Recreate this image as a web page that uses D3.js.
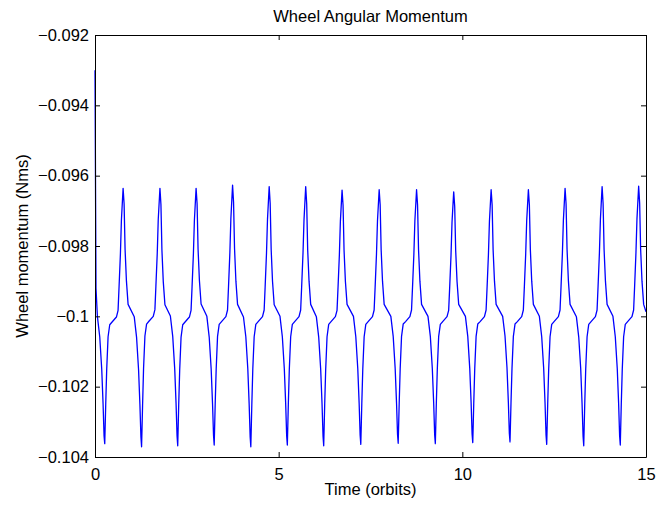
<!DOCTYPE html>
<html>
<head>
<meta charset="utf-8">
<script src="https://cdn.jsdelivr.net/npm/d3@7"></script>
<style>
  body { margin: 0; background: #fff; }
  text { font-family: "Liberation Sans", Arial, sans-serif; }
</style>
</head>
<body>
<div id="chart-area"></div>
<script>
// time samples (orbits), one row per orbit
const timeOrbits = [
  0, 0.027, 0.065, 0.129, 0.183, 0.22, 0.247, 0.265, 0.292, 0.319, 0.356, 0.401, 0.465, 0.583, 0.628, 0.655, 0.692, 0.719, 0.765, 0.792, 0.819, 0.856, 0.901,
  1.068, 1.132, 1.186, 1.223, 1.25, 1.268, 1.295, 1.322, 1.359, 1.404, 1.468, 1.586, 1.631, 1.658, 1.695, 1.722, 1.768, 1.795, 1.822, 1.859, 1.904,
  2.052, 2.116, 2.17, 2.207, 2.234, 2.252, 2.279, 2.306, 2.343, 2.388, 2.452, 2.57, 2.615, 2.642, 2.679, 2.706, 2.752, 2.779, 2.806, 2.843, 2.888,
  3.045, 3.109, 3.163, 3.2, 3.227, 3.245, 3.272, 3.299, 3.336, 3.381, 3.445, 3.563, 3.608, 3.635, 3.672, 3.699, 3.745, 3.772, 3.799, 3.836, 3.881,
  4.042, 4.106, 4.16, 4.197, 4.224, 4.242, 4.269, 4.296, 4.333, 4.378, 4.442, 4.56, 4.605, 4.632, 4.669, 4.696, 4.742, 4.769, 4.796, 4.833, 4.878,
  5.036, 5.1, 5.154, 5.191, 5.218, 5.236, 5.263, 5.29, 5.327, 5.372, 5.436, 5.554, 5.599, 5.626, 5.663, 5.69, 5.736, 5.763, 5.79, 5.827, 5.872,
  6.026, 6.09, 6.144, 6.181, 6.208, 6.226, 6.253, 6.28, 6.317, 6.362, 6.426, 6.544, 6.589, 6.616, 6.653, 6.68, 6.726, 6.753, 6.78, 6.817, 6.862,
  7.036, 7.1, 7.154, 7.191, 7.218, 7.236, 7.263, 7.29, 7.327, 7.372, 7.436, 7.554, 7.599, 7.626, 7.663, 7.69, 7.736, 7.763, 7.79, 7.827, 7.872,
  8.054, 8.118, 8.172, 8.209, 8.236, 8.254, 8.281, 8.308, 8.345, 8.39, 8.454, 8.572, 8.617, 8.644, 8.681, 8.708, 8.754, 8.781, 8.808, 8.845, 8.89,
  9.065, 9.129, 9.183, 9.22, 9.247, 9.265, 9.292, 9.319, 9.356, 9.401, 9.465, 9.583, 9.628, 9.655, 9.692, 9.719, 9.765, 9.792, 9.819, 9.856, 9.901,
  10.084, 10.148, 10.202, 10.239, 10.266, 10.284, 10.311, 10.338, 10.375, 10.42, 10.484, 10.602, 10.647, 10.674, 10.711, 10.738, 10.784, 10.811, 10.838, 10.875, 10.92,
  11.098, 11.162, 11.216, 11.253, 11.28, 11.298, 11.325, 11.352, 11.389, 11.434, 11.498, 11.616, 11.661, 11.688, 11.725, 11.752, 11.798, 11.825, 11.852, 11.889, 11.934,
  12.097, 12.161, 12.215, 12.252, 12.279, 12.297, 12.324, 12.351, 12.388, 12.433, 12.497, 12.615, 12.66, 12.687, 12.724, 12.751, 12.797, 12.824, 12.851, 12.888, 12.933,
  13.105, 13.169, 13.223, 13.26, 13.287, 13.305, 13.332, 13.359, 13.396, 13.441, 13.505, 13.623, 13.668, 13.695, 13.732, 13.759, 13.805, 13.832, 13.859, 13.896, 13.941,
  14.1, 14.164, 14.218, 14.255, 14.282, 14.3, 14.327, 14.354, 14.391, 14.436, 14.5, 14.618, 14.663, 14.69, 14.727, 14.754, 14.8, 14.827, 14.854, 14.891, 14.936, 15
];

// wheel momentum (Nms), same rows as timeOrbits
const wheelMomentum = [
  -0.0930, -0.0992, -0.1000, -0.10058, -0.1015, -0.1025, -0.1034, -0.10362, -0.1025, -0.1015, -0.10058, -0.10024, -0.10016, -0.10002, -0.09983, -0.09916, -0.09822, -0.09726, -0.09636, -0.0968, -0.0981, -0.0990, -0.09966,
  -0.10001, -0.1006, -0.10152, -0.10252, -0.10342, -0.10371, -0.10254, -0.10148, -0.10056, -0.10022, -0.10014, -0.1, -0.09981, -0.09914, -0.0982, -0.09724, -0.09636, -0.09682, -0.09812, -0.09902, -0.09967,
  -0.09999, -0.10057, -0.10149, -0.10249, -0.1034, -0.10368, -0.10251, -0.10151, -0.10059, -0.10024, -0.10016, -0.10002, -0.09983, -0.09917, -0.09822, -0.09727, -0.09636, -0.09679, -0.09809, -0.09899, -0.09965,
  -0.1, -0.10059, -0.10151, -0.1025, -0.10339, -0.10366, -0.10249, -0.1015, -0.10057, -0.10023, -0.10015, -0.10001, -0.09982, -0.09915, -0.09818, -0.09722, -0.09627, -0.09676, -0.09808, -0.099, -0.09966,
  -0.10002, -0.10058, -0.1015, -0.10251, -0.10343, -0.10371, -0.10252, -0.10149, -0.10058, -0.10023, -0.10015, -0.10001, -0.09982, -0.09916, -0.0982, -0.09724, -0.09631, -0.09679, -0.0981, -0.09901, -0.09967,
  -0.1, -0.10058, -0.1015, -0.10249, -0.1034, -0.10366, -0.1025, -0.1015, -0.10058, -0.10023, -0.10015, -0.10001, -0.09982, -0.09915, -0.09819, -0.09725, -0.09631, -0.0968, -0.09811, -0.099, -0.09966,
  -0.10001, -0.10059, -0.10151, -0.1025, -0.10341, -0.10368, -0.10251, -0.10151, -0.10058, -0.10023, -0.10015, -0.10001, -0.09983, -0.09918, -0.09824, -0.0973, -0.09641, -0.09684, -0.09812, -0.09901, -0.09966,
  -0.1, -0.10058, -0.1015, -0.10248, -0.10338, -0.10364, -0.10249, -0.1015, -0.10058, -0.10023, -0.10015, -0.10001, -0.09982, -0.09917, -0.09823, -0.09729, -0.0964, -0.09683, -0.09811, -0.099, -0.09966,
  -0.1, -0.10057, -0.10149, -0.10247, -0.10336, -0.10361, -0.10248, -0.10149, -0.10057, -0.10022, -0.10015, -0.10001, -0.09982, -0.09917, -0.09823, -0.09729, -0.0964, -0.09683, -0.09811, -0.099, -0.09966,
  -0.1, -0.10057, -0.10149, -0.10247, -0.10337, -0.10362, -0.10248, -0.10149, -0.10057, -0.10023, -0.10015, -0.10001, -0.09983, -0.09919, -0.09826, -0.09733, -0.09646, -0.09687, -0.09813, -0.09901, -0.09966,
  -0.1, -0.10057, -0.10148, -0.10246, -0.10335, -0.10359, -0.10247, -0.10148, -0.10057, -0.10022, -0.10015, -0.10001, -0.09982, -0.09917, -0.09823, -0.09729, -0.0964, -0.09683, -0.09811, -0.099, -0.09966,
  -0.1, -0.10056, -0.10147, -0.10245, -0.10333, -0.10357, -0.10246, -0.10148, -0.10057, -0.10022, -0.10015, -0.10001, -0.09982, -0.09917, -0.09823, -0.09729, -0.0964, -0.09683, -0.09811, -0.099, -0.09966,
  -0.1, -0.10058, -0.10149, -0.10248, -0.10338, -0.10364, -0.10249, -0.1015, -0.10058, -0.10023, -0.10015, -0.10001, -0.09982, -0.09916, -0.09821, -0.09727, -0.09636, -0.0968, -0.0981, -0.099, -0.09966,
  -0.10001, -0.10059, -0.1015, -0.1025, -0.10341, -0.10368, -0.10251, -0.1015, -0.10058, -0.10023, -0.10015, -0.10001, -0.09982, -0.09915, -0.09819, -0.09724, -0.09631, -0.09679, -0.0981, -0.099, -0.09966,
  -0.1, -0.10058, -0.1015, -0.10249, -0.1034, -0.10366, -0.1025, -0.1015, -0.10058, -0.10023, -0.10015, -0.10001, -0.09982, -0.09915, -0.09818, -0.09723, -0.0963, -0.09678, -0.09809, -0.099, -0.09966, -0.09987
];

const xTickValues = [0, 5, 10, 15];
const yTickValues = [-0.104, -0.102, -0.1, -0.098, -0.096, -0.094, -0.092];
const yTickLabels = ["\u22120.104", "\u22120.102", "\u22120.1", "\u22120.098", "\u22120.096", "\u22120.094", "\u22120.092"];

const margins = { top: 35, right: 12, bottom: 49, left: 95 };
const canvas_dims = { width: 658, height: 506 };
const content_dims = {
  width: canvas_dims.width - margins.left - margins.right,
  height: canvas_dims.height - margins.top - margins.bottom
};

const svg = d3
  .select("#chart-area")
  .append("svg")
  .attr("width", canvas_dims.width)
  .attr("height", canvas_dims.height);

const group = svg
  .append("g")
  .attr("transform", `translate(${margins.left},${margins.top})`);

const scales = {
  x: d3.scaleLinear().domain([0, 15]).range([0, content_dims.width]),
  y: d3.scaleLinear().domain([-0.104, -0.092]).range([content_dims.height, 0])
};

const data = d3.zip(timeOrbits, wheelMomentum);

// line
group
  .append("path")
  .datum(data)
  .attr("fill", "none")
  .attr("stroke", "#0000ff")
  .attr("stroke-width", 1.3)
  .attr("stroke-linejoin", "round")
  .attr("d", d3.line().x(d => scales.x(d[0])).y(d => scales.y(d[1])));

// axes (MATLAB style box with inward ticks)
const fontSize = "16.5px";
const styleAxis = g => {
  g.select(".domain").attr("stroke", "#000");
  g.selectAll(".tick line").attr("stroke", "#000");
  g.selectAll(".tick text")
    .attr("fill", "#000")
    .attr("font-size", fontSize)
    .attr("font-family", "'Liberation Sans', Arial, sans-serif");
};

group
  .append("g")
  .attr("class", "bottom axis")
  .attr("transform", `translate(0,${content_dims.height})`)
  .call(d3.axisBottom(scales.x).tickValues(xTickValues).tickFormat(d3.format("d")).tickSize(-5).tickSizeOuter(0).tickPadding(11))
  .call(styleAxis);

group
  .append("g")
  .attr("class", "top axis")
  .call(d3.axisTop(scales.x).tickValues(xTickValues).tickFormat("").tickSize(-5).tickSizeOuter(0))
  .call(styleAxis);

group
  .append("g")
  .attr("class", "left axis")
  .call(d3.axisLeft(scales.y).tickValues(yTickValues).tickFormat((d, i) => yTickLabels[i]).tickSize(-5).tickSizeOuter(0).tickPadding(6))
  .call(styleAxis);

group
  .append("g")
  .attr("class", "right axis")
  .attr("transform", `translate(${content_dims.width},0)`)
  .call(d3.axisRight(scales.y).tickValues(yTickValues).tickFormat("").tickSize(-5).tickSizeOuter(0))
  .call(styleAxis);

// title
svg
  .append("text")
  .attr("x", margins.left + content_dims.width / 2)
  .attr("y", 22)
  .attr("text-anchor", "middle")
  .attr("font-size", fontSize)
  .text("Wheel Angular Momentum");

// x axis-label
svg
  .append("text")
  .attr("x", margins.left + content_dims.width / 2)
  .attr("y", 495)
  .attr("text-anchor", "middle")
  .attr("font-size", fontSize)
  .text("Time (orbits)");

// y axis-label
svg
  .append("text")
  .attr("transform", `translate(28,${margins.top + content_dims.height / 2}) rotate(-90)`)
  .attr("text-anchor", "middle")
  .attr("font-size", fontSize)
  .text("Wheel momentum (Nms)");
</script>
</body>
</html>
